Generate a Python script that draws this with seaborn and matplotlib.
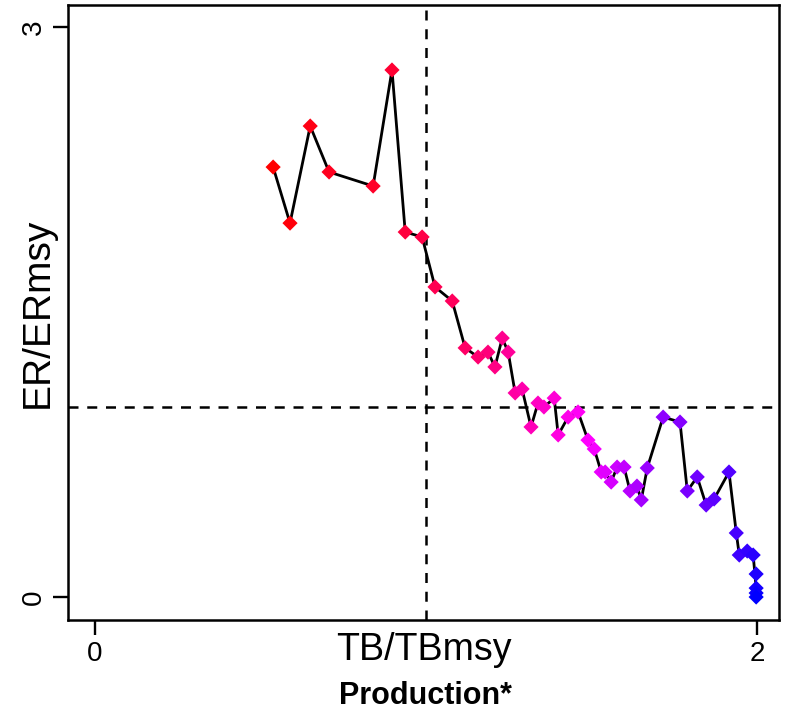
import colorsys
import numpy as np
import pandas as pd
import matplotlib
matplotlib.use("Agg")
import matplotlib.pyplot as plt
import seaborn as sns

# TB/TBmsy (x) and ER/ERmsy (y) trajectory
tb_ratio = [0.538, 0.589, 0.650, 0.707, 0.840, 0.897, 0.937, 0.988, 1.027, 1.079,
            1.118, 1.157, 1.187, 1.208, 1.230, 1.248, 1.269, 1.290, 1.317, 1.338,
            1.356, 1.387, 1.399, 1.429, 1.459, 1.489, 1.508, 1.529, 1.541, 1.559,
            1.577, 1.598, 1.616, 1.637, 1.650, 1.668, 1.716, 1.767, 1.789, 1.819,
            1.846, 1.870, 1.915, 1.937, 1.946, 1.970, 1.988, 1.997, 1.997, 1.997,
            1.997]
er_ratio = [2.263, 1.968, 2.479, 2.237, 2.163, 2.774, 1.921, 1.895, 1.632, 1.558,
            1.311, 1.263, 1.289, 1.211, 1.363, 1.289, 1.074, 1.095, 0.895, 1.021,
            1.000, 1.047, 0.853, 0.947, 0.974, 0.826, 0.779, 0.658, 0.658, 0.605,
            0.684, 0.684, 0.558, 0.584, 0.511, 0.679, 0.947, 0.921, 0.558, 0.632,
            0.484, 0.516, 0.658, 0.337, 0.221, 0.242, 0.221, 0.121, 0.047, 0.021,
            0.000]
x_ticks = [0, 2]
y_ticks = [0, 3]
ref_x = 1.0
ref_y = 1.0

df = pd.DataFrame({"tb": tb_ratio, "er": er_ratio, "step": range(len(tb_ratio))})

# red -> magenta -> blue, going round the hue wheel
n = len(df)
colors = [colorsys.hsv_to_rgb(1.0 - (1/3) * i / (n - 1), 1, 1) for i in range(n)]

sns.set_style("white")
plt.rcParams["font.family"] = ["Liberation Sans", "DejaVu Sans"]
plt.rcParams["text.color"] = "black"
plt.rcParams["axes.labelcolor"] = "black"
plt.rcParams["xtick.color"] = "black"
plt.rcParams["ytick.color"] = "black"

fig = plt.figure(figsize=(7.93, 7.19), dpi=100)
ax = fig.add_axes([68/793, 1 - 620/719, (779-68)/793, (620-5)/719])

ax.axvline(ref_x, color="black", lw=1.8, ls=(0, (4, 3.5)), zorder=1)
ax.axhline(ref_y, color="black", lw=1.8, ls=(0, (4, 3.5)), zorder=1)

sns.lineplot(data=df, x="tb", y="er", sort=False, color="black", lw=2.0,
             ax=ax, zorder=2)
sns.scatterplot(data=df, x="tb", y="er", hue="step", palette=colors, marker="D",
                s=60, linewidth=0, legend=False, ax=ax, zorder=3)

ax.set_xlim(-0.0816, 2.066)
ax.set_ylim(-0.121, 3.116)
ax.set_xticks(x_ticks)
ax.set_yticks(y_ticks)
ax.set_xticklabels([str(v) for v in x_ticks], fontsize=20)
ax.set_yticklabels([str(v) for v in y_ticks], fontsize=20, rotation=90, va="center")
ax.tick_params(axis="both", direction="out", length=11, width=1.7,
               bottom=True, left=True)
ax.tick_params(axis="x", pad=4)
ax.tick_params(axis="y", pad=4)

for sp in ax.spines.values():
    sp.set_visible(True)
    sp.set_color("black")
    sp.set_linewidth(1.8)

ax.set_xlabel("TB/TBmsy", fontsize=27)
ax.xaxis.set_label_coords(0.5, -0.02)
ax.set_ylabel("ER/ERmsy", fontsize=28)
ax.yaxis.set_label_coords(-0.017, 0.5)

fig.text(0.537, 1 - 696/719, "Production*", fontsize=22, fontweight="bold",
         ha="center", va="center")

fig.savefig("out.png", dpi=100)
